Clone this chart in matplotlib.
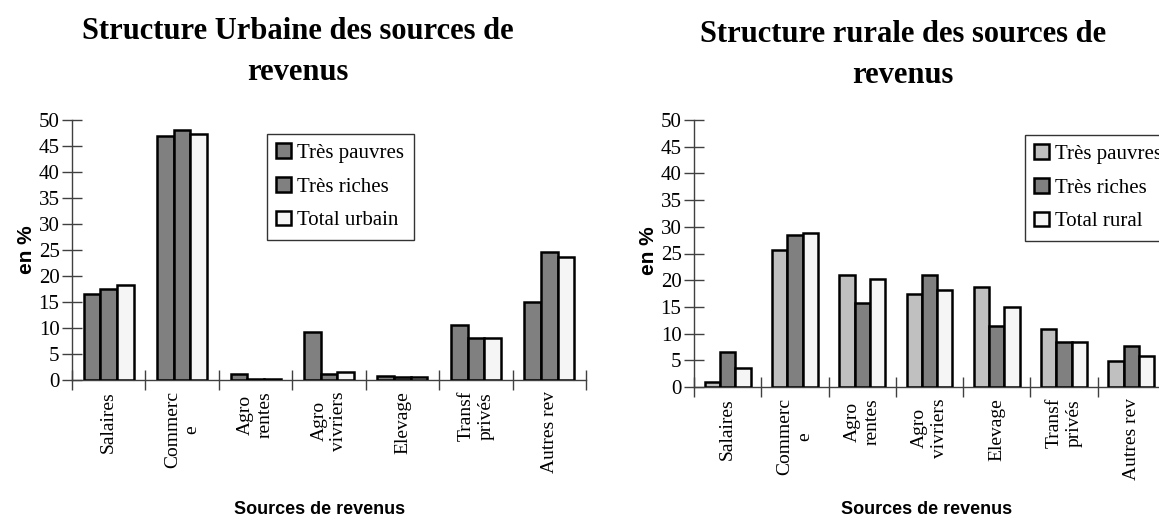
import numpy as np
import matplotlib.pyplot as plt

# categories (x tick labels)
sources = ["Salaires", "Commerc\ne", "Agro\nrentes", "Agro\nvivriers",
           "Elevage", "Transf\nprivés", "Autres rev"]

# urban values (%)
urb_pauvres = [16.5, 47.0, 1.1, 9.2, 0.8, 10.5, 15.0]
urb_riches = [17.5, 48.0, 0.1, 1.2, 0.5, 8.0, 24.7]
urb_total = [18.2, 47.4, 0.2, 1.5, 0.6, 8.0, 23.6]

# rural values (%)
rur_pauvres = [1.0, 25.7, 20.9, 17.5, 18.7, 10.9, 4.8]
rur_riches = [6.6, 28.5, 15.8, 21.0, 11.4, 8.5, 7.7]
rur_total = [3.5, 28.8, 20.2, 18.2, 14.9, 8.4, 5.8]

W, H = 1159, 520
serif = "Liberation Serif"
sans = "Liberation Sans"

fig = plt.figure(figsize=(W / 100, H / 100), dpi=100)


def draw(rect, series, colors, names, legend_xy, title, title_xy, ylab_xy, xlab_xy):
    ax = fig.add_axes(rect)
    x = np.arange(len(sources))
    bw = 0.227
    bars = []
    for i, (vals, col) in enumerate(zip(series, colors)):
        b = ax.bar(x + (i - 1) * bw, vals, bw, color=col, edgecolor="black",
                   linewidth=1.8, zorder=3)
        bars.append(b)
    ax.set_xlim(-0.5, len(sources) - 0.5)
    ax.set_ylim(0, 50)
    ax.set_yticks(range(0, 51, 5))
    ax.set_yticklabels([str(v) for v in range(0, 51, 5)], fontfamily=serif, fontsize=15)
    # boundary ticks (major, no labels) + labels at centres (minor, no tick)
    ax.set_xticks(np.arange(-0.5, len(sources), 1.0))
    ax.set_xticklabels([])
    ax.set_xticks(x, minor=True)
    ax.set_xticklabels(sources, minor=True, rotation=90, fontfamily=serif,
                       fontsize=14, multialignment="center")
    ax.tick_params(axis="x", which="minor", length=0, pad=8)
    ax.tick_params(axis="x", which="major", direction="inout", length=14,
                   color="#404040", width=1)
    ax.tick_params(axis="y", direction="inout", length=14, color="#404040",
                   width=1, pad=2)
    for s in ["top", "right"]:
        ax.spines[s].set_visible(False)
    for s in ["left", "bottom"]:
        ax.spines[s].set_color("#404040")
        ax.spines[s].set_linewidth(1)
    ax.set_facecolor("none")

    leg = fig.legend(bars, names, loc="upper left", bbox_to_anchor=legend_xy,
                     bbox_transform=fig.transFigure, prop={"family": serif, "size": 15},
                     frameon=True, fancybox=False, handlelength=0.7,
                     handleheight=0.7, handletextpad=0.3, labelspacing=0.68,
                     borderpad=0.45, borderaxespad=0)
    leg.get_frame().set_edgecolor("black")
    leg.get_frame().set_linewidth(1)

    fig.text(title_xy[0] / W, 1 - title_xy[1] / H, title, ha="center", va="center",
             fontfamily=serif, fontweight="bold", fontsize=22, linespacing=1.55)
    fig.text(ylab_xy[0] / W, 1 - ylab_xy[1] / H, "en %", rotation=90, ha="center",
             va="center", fontfamily=sans, fontweight="bold", fontsize=15)
    fig.text(xlab_xy[0] / W, 1 - xlab_xy[1] / H, "Sources de revenus", ha="center",
             va="center", fontfamily=sans, fontweight="bold", fontsize=13)
    return ax


draw([72 / W, 1 - 380 / H, 514 / W, 260 / H],
     [urb_pauvres, urb_riches, urb_total],
     ["#808080", "#808080", "#f5f5f5"],
     ["Très pauvres", "Très riches", "Total urbain"],
     (267 / W, 1 - 134 / H),
     "Structure Urbaine des sources de\nrevenus", (298, 52), (26, 250), (320, 510))

draw([694 / W, 1 - 387 / H, 471 / W, 267 / H],
     [rur_pauvres, rur_riches, rur_total],
     ["#c0c0c0", "#808080", "#f5f5f5"],
     ["Très pauvres", "Très riches", "Total rural"],
     (1025 / W, 1 - 135 / H),
     "Structure rurale des sources de\nrevenus", (903, 55), (648, 251), (927, 510))

fig.savefig("out.png", dpi=100, facecolor="white")
